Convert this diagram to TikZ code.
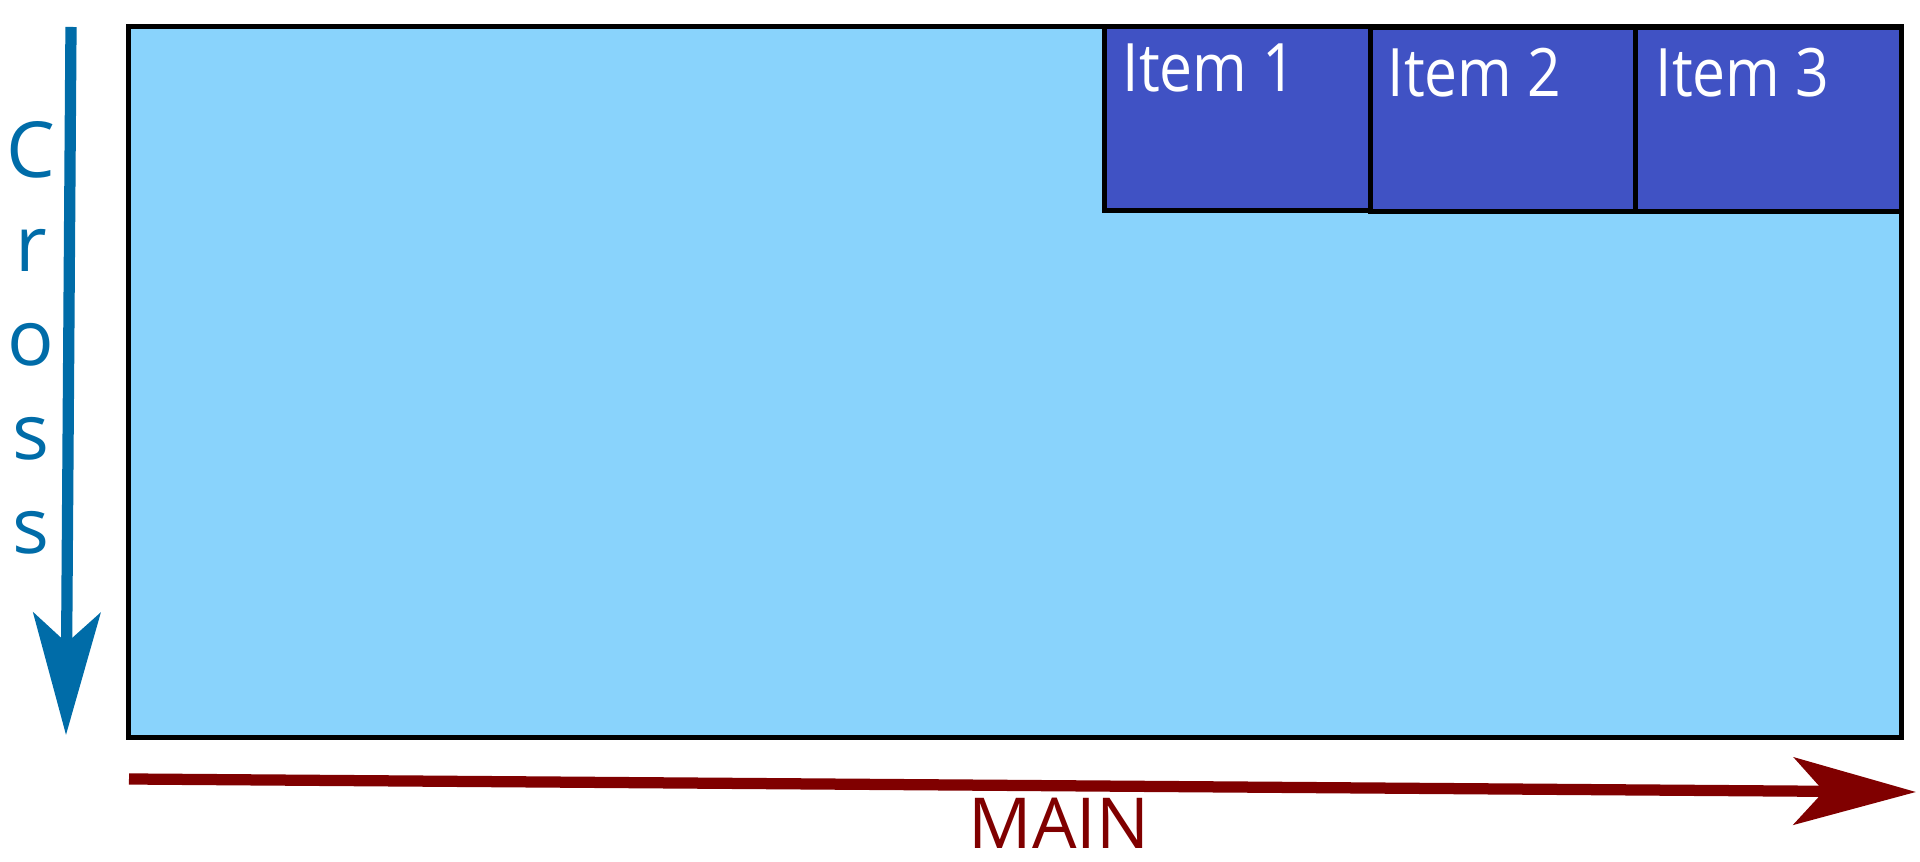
\documentclass[tikz,border=0pt]{standalone}
\usepackage{fontspec}
\setmainfont{Open Sans}
\newfontfamily\narrowfont[FakeStretch=0.88]{Open Sans}
\usetikzlibrary{arrows.meta}
\definecolor{panelblue}{RGB}{137,211,252}
\definecolor{itemblue}{RGB}{64,82,196}
\definecolor{crossblue}{RGB}{0,108,168}
\definecolor{mainred}{RGB}{128,0,0}

\tikzset{
  itembox/.style={draw=black, line width=1.4pt, fill=itemblue, anchor=north west,
    minimum width=2.66cm, minimum height=1.84cm, inner sep=0pt},
  itemtext/.style={white, font=\narrowfont\fontsize{19}{22}\selectfont, anchor=north west, inner sep=0pt},
  crosstext/.style={crossblue, font=\fontsize{22}{26}\selectfont, anchor=base},
  axisarrow/.style={line width=3.2pt, -{Stealth[length=1.22cm, width=0.67cm, inset=0.3cm]}}
}

\begin{document}
\begin{tikzpicture}[x=0.01cm, y=-0.01cm]
    \useasboundingbox (0,0) rectangle (1920,862);

    % Main panel
    \node[draw=black, line width=1.4pt, fill=panelblue, anchor=north west,
      minimum width=17.72cm, minimum height=7.11cm, inner sep=0pt] (panel) at (126,24) {};

    % Items along the main axis
    \node[itembox] (item1) at (1102,24) {};
    \node[itembox] (item2) at (1368,25) {};
    \node[itembox] (item3) at (1633,25) {};
    \node[itemtext] at ([xshift=0.2cm, yshift=-0.19cm]item1.north west) {Item 1};
    \node[itemtext] at ([xshift=0.19cm, yshift=-0.22cm]item2.north west) {Item 2};
    \node[itemtext] at ([xshift=0.22cm, yshift=-0.22cm]item3.north west) {Item 3};

    % Cross axis
    \coordinate (crossstart) at (71,27);
    \coordinate (crossend) at (66,735);
    \draw[axisarrow, crossblue] (crossstart) -- (crossend);
    \foreach \ch [count=\i] in {C,r,o,s,s}
        \node[crosstext] (cross\i) at (31,{178+94*(\i-1)}) {\ch};

    % Main axis
    \coordinate (mainstart) at (129,779);
    \coordinate (mainend) at (1916,792);
    \draw[axisarrow, mainred] (mainstart) -- (mainend);
    \node[mainred, font=\fontsize{20}{24}\selectfont, anchor=base] (mainlabel) at (1059,849) {MAIN};
\end{tikzpicture}
\end{document}
